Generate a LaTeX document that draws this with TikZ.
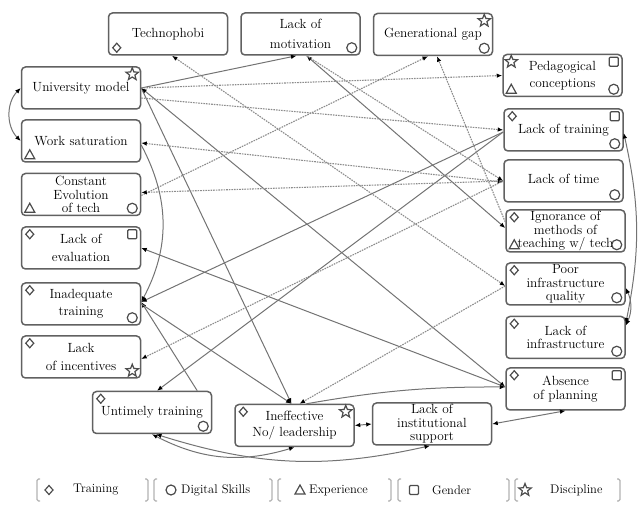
\documentclass[tikz,border=0pt]{standalone}
\usepackage{tikz}
\usetikzlibrary{positioning,arrows.meta,calc}

\newcommand{\atTL}[2]{\pic at ($(#1.north west)+(9,-8)$) {#2};}
\newcommand{\atTR}[2]{\pic at ($(#1.north east)+(-9,-8)$) {#2};}
\newcommand{\atBL}[2]{\pic at ($(#1.south west)+(9,8)$) {#2};}
\newcommand{\atBR}[2]{\pic at ($(#1.south east)+(-9,8)$) {#2};}

\begin{document}
\begin{tikzpicture}[
    x=1pt, y=1pt,
    >={Latex[length=5.5pt,width=4.5pt,color=black]},
    factor/.style={
      draw=black!62,
      line width=1.5pt,
      rounded corners=4pt,
      fill=white,
      align=center,
      minimum width=119pt,
      minimum height=42pt,
      inner sep=1pt,
      font=\fontsize{13.3}{13.5}\selectfont
    },
    link/.style={draw=black!55, line width=1pt, ->},
    dlink/.style={link, draw=black!45, line width=1.1pt, dash pattern=on 1.6pt off 1pt},
    sym/.style={draw=black!70, line width=1.2pt},
    brk/.style={draw=black!30, line width=1.2pt, rounded corners=1.5pt},
    legtext/.style={font=\fontsize{12.5}{13}\selectfont, inner sep=0pt},
    pics/dia/.style={code={\draw[sym] (0,4.5) -- (4,0) -- (0,-4.5) -- (-4,0) -- cycle;}},
    pics/cir/.style={code={\draw[sym] (0,0) circle (5);}},
    pics/tri/.style={code={\draw[sym] (-5,-4) -- (5,-4) -- (0,5) -- cycle;}},
    pics/sqr/.style={code={\draw[sym, rounded corners=1pt] (-4.5,-4.5) rectangle (4.5,4.5);}},
    pics/str/.style={code={\draw[sym] (90:6.5) -- (126:2.8) -- (162:6.5) -- (198:2.8) -- (234:6.5)
      -- (270:2.8) -- (306:6.5) -- (342:2.8) -- (18:6.5) -- (54:2.8) -- cycle;}}
  ]
    \useasboundingbox (0,0) rectangle (641,509);

    % factors, left column
    \node[factor] (univ) at (81,421) {University model};
    \node[factor] (worksat) at (81,368) {Work saturation};
    \node[factor] (evol) at (81,314.5) {Constant\\Evolution\\of tech};
    \node[factor] (evalu) at (81,261) {Lack of\\[4pt]evaluation};
    \node[factor] (inadeq) at (81,205) {Inadequate\\[4pt]training};
    \node[factor] (incent) at (81,152) {Lack\\[4pt]of incentives};

    % top row
    \node[factor] (tech) at (168,475) {Technophobi};
    \node[factor] (motiv) at (300.5,475) {Lack of\\[6pt]motivation};
    \node[factor] (gengap) at (433,474.5) {Generational gap};

    % right column
    \node[factor] (pedag) at (562.5,433.5) {Pedagogical\\[4pt]conceptions};
    \node[factor] (lacktrain) at (563.5,379) {Lack of training};
    \node[factor] (time) at (563.5,328) {\raisebox{4pt}{Lack of time}};
    \node[factor] (ignor) at (565.5,278) {Ignorance of\\methods of\\teaching w/ tech};
    \node[factor] (poor) at (565.5,225) {Poor\\infrastructure\\quality};
    \node[factor] (infra) at (565.5,171.5) {Lack of\\infrastructure};
    \node[factor] (absence) at (565.5,120) {Absence\\of planning};

    % bottom row
    \node[factor] (untimely) at (152,96.5) {Untimely training};
    \node[factor] (ineff) at (294.5,83.5) {Ineffective\\[3pt]No/ leadership};
    \node[factor] (instit) at (432,85) {Lack of\\institutional\\support};

    % corner marks
    \atBL{tech}{dia}
    \atBR{motiv}{cir}
    \atTR{gengap}{str} \atBR{gengap}{cir}
    \atTR{univ}{str}
    \atTL{pedag}{str} \atTR{pedag}{sqr} \atBL{pedag}{tri} \atBR{pedag}{cir}
    \atBL{worksat}{tri}
    \atTL{lacktrain}{dia} \atTR{lacktrain}{sqr} \atBR{lacktrain}{cir}
    \atBL{evol}{tri} \atBR{evol}{cir}
    \atBR{time}{cir}
    \atTL{evalu}{dia} \atTR{evalu}{sqr}
    \atTL{ignor}{dia} \atBL{ignor}{tri} \atBR{ignor}{cir}
    \atTL{inadeq}{dia} \atBR{inadeq}{cir}
    \atTL{poor}{dia} \atBR{poor}{cir}
    \atTL{incent}{dia} \atBR{incent}{str}
    \atTL{infra}{dia} \atBR{infra}{cir}
    \atTL{absence}{dia} \atTR{absence}{sqr}
    \atTL{untimely}{dia} \atBR{untimely}{cir}
    \atTL{ineff}{dia} \atTR{ineff}{str}

    % solid links
    \draw[link] (univ.east) -- ([xshift=-4pt]motiv.south);
    \draw[link,<->] ([xshift=6pt]motiv.south) -- ([yshift=3pt]ignor.west);
    \draw[link] (univ.east) -- ([xshift=-3pt]ineff.north);
    \draw[link,<->] (univ.east) -- ([yshift=2pt]absence.west);
    \draw[link] ([yshift=-2pt]lacktrain.west) -- ([yshift=2pt]inadeq.east);
    \draw[link] ([yshift=-2pt]lacktrain.west) -- ([xshift=5pt]untimely.north);
    \draw[link] ([xshift=-15pt]untimely.north east) -- ([yshift=2pt]inadeq.east);
    \draw[link] (inadeq.east) -- ([xshift=-3pt]ineff.north);
    \draw[link] ([yshift=2pt]absence.west) -- (evalu.east);

    % dashed links
    \draw[dlink,<->] ([xshift=4pt]tech.south) -- ([yshift=-2pt]poor.west);
    \draw[dlink] ([yshift=-1pt]evol.east) -- ([xshift=-5pt]gengap.south);
    \draw[dlink] ([yshift=9pt]ignor.west) -- ([xshift=4pt]gengap.south);
    \draw[dlink] (univ.east) -- (pedag.west);
    \draw[dlink] ([yshift=-10pt]univ.east) -- (lacktrain.west);
    \draw[dlink,<->] ([yshift=-2pt]worksat.east) -- ([yshift=-1pt]time.west);
    \draw[dlink] (time.west) -- ([yshift=2pt]evol.east);
    \draw[dlink] ([xshift=6pt]motiv.south) -- (time.west);
    \draw[dlink] (time.west) -- ([yshift=-2pt]incent.east);
    \draw[dlink] ([yshift=-2pt]poor.west) -- ([xshift=5pt]ineff.north);

    % curved links
    \draw[link,<->] (univ.west) to[bend right=45] (worksat.west);
    \draw[link] ([yshift=-4pt]worksat.east) to[bend left=28] ([yshift=2pt]inadeq.east);
    \draw[link,<->] ([yshift=-3pt]lacktrain.east) to[bend left=12] ([yshift=14pt]infra.east);
    \draw[link,<->] ([yshift=12pt]infra.east) to[bend right=25] ([yshift=-4pt]poor.east);
    \draw[link] ([xshift=12pt]ineff.north) to[bend left=5] ([yshift=2pt]absence.west);
    \draw[link,<->] (ineff.east) -- (instit.west);
    \draw[link,<->] (instit.east) -- (absence.south);
    \draw[link,<->] (untimely.south) to[bend right=22] (ineff.south);
    \draw[link,<->] ([xshift=4pt]untimely.south) to[bend right=15] ([xshift=-2pt]instit.south);

    % legend
    \foreach \bx in {37,154,278,398,515}
      \draw[brk] (\bx+3,30) -- (\bx,30) -- (\bx,8) -- (\bx+3,8);
    \foreach \bx in {148,272,391,509,620}
      \draw[brk] (\bx-3,30) -- (\bx,30) -- (\bx,8) -- (\bx-3,8);
    \pic at (49,19) {dia};
    \pic at (171,19) {cir};
    \pic at (300,19) {tri};
    \pic at (414,19) {sqr};
    \pic at (525,19) {str};
    \node[legtext, anchor=west] (lgtrain) at (73,19) {Training};
    \node[legtext, anchor=west] (lgdigit) at (181,19) {Digital Skills};
    \node[legtext, anchor=west] (lgexper) at (309,19) {Experience};
    \node[legtext, anchor=west] (lggender) at (432,19) {Gender};
    \node[legtext, anchor=west] (lgdisc) at (550,19) {Discipline};
\end{tikzpicture}
\end{document}
